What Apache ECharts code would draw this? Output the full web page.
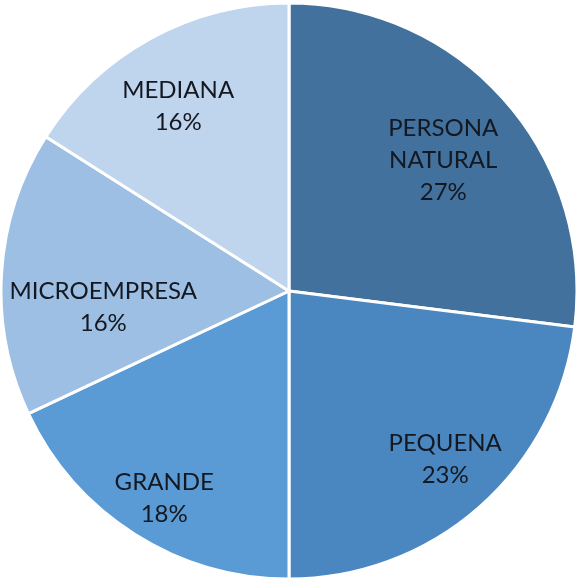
<!DOCTYPE html>
<html><head><meta charset="utf-8">
<script src="https://cdn.jsdelivr.net/npm/echarts@6/dist/echarts.min.js"></script>
<style>html,body{margin:0;padding:0;background:#fff}#c{width:577px;height:581px}</style>
</head><body><div id="c"></div>
<script>
const categories = ['PERSONA\nNATURAL', 'PEQUENA', 'GRANDE', 'MICROEMPRESA', 'MEDIANA'];
const values = [27, 23, 18, 16, 16];
const colors = ['#41719C', '#4A87C0', '#5B9BD5', '#9CBFE3', '#BFD4ED'];
const labelOffsets = [[44, -34], [59, 58], [-46, 83], [-39, 25], [-40, -56]];

const chart = echarts.init(document.getElementById('c'), null, {renderer: 'canvas'});
chart.setOption({
  animation: false,
  series: [{
    type: 'pie',
    center: [289, 291],
    radius: 288,
    startAngle: 90,
    clockwise: true,
    data: categories.map((n, i) => ({
      name: n, value: values[i],
      itemStyle: {color: colors[i]},
      label: {offset: labelOffsets[i]}
    })),
    itemStyle: {borderColor: '#ffffff', borderWidth: 3},
    label: {
      show: true, position: 'inside',
      formatter: p => p.name + '\n' + Math.round(p.percent) + '%',
      fontFamily: 'Lato', fontSize: 24, lineHeight: 32, color: '#141820'
    },
    labelLine: {show: false},
    emphasis: {disabled: true}
  }]
});
</script></body></html>
